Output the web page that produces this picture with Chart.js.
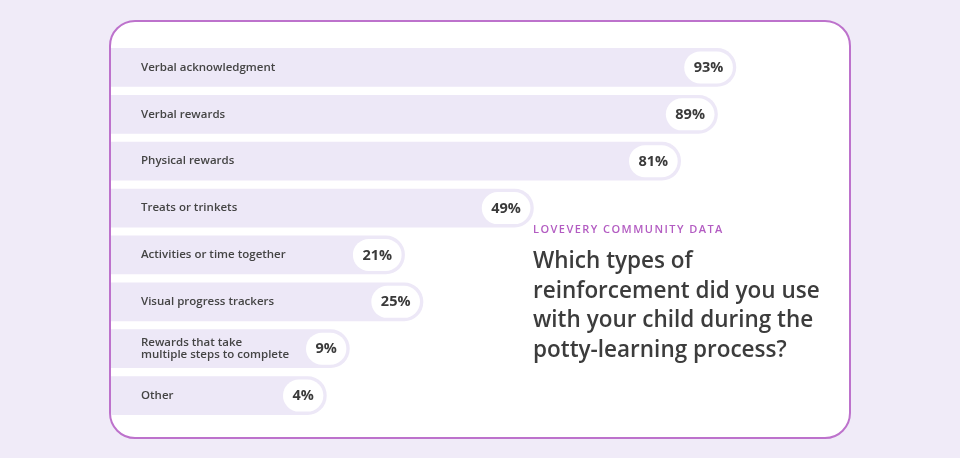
<!DOCTYPE html>
<html><head><meta charset="utf-8">
<script src="https://cdn.jsdelivr.net/npm/chart.js@4"></script>
<style>
html,body{margin:0;padding:0;background:#f0ebf8;width:960px;height:458px;overflow:hidden;font-family:"Open Sans",sans-serif}
#card{position:absolute;left:109px;top:20px;width:738px;height:415px;background:#fff;border:2px solid #bd72cc;border-radius:26px}
#c{position:absolute;left:0;top:0}
#kicker{position:absolute;left:533px;top:222px;font-size:11px;line-height:13px;font-weight:600;letter-spacing:1.45px;color:#b35cc2;white-space:nowrap}
#q{position:absolute;left:533px;top:245px;font-size:22.5px;font-weight:600;line-height:29.7px;color:#3c3c3c;width:330px;white-space:nowrap}
</style></head>
<body>
<div id="card"></div>
<canvas id="c" width="960" height="458"></canvas>
<div id="kicker">LOVEVERY COMMUNITY DATA</div>
<div id="q">Which types of<br>reinforcement did you use<br>with your child during the<br>potty-learning process?</div>
<script>
const categories = ['Verbal acknowledgment','Verbal rewards','Physical rewards','Treats or trinkets','Activities or time together','Visual progress trackers',['Rewards that take','multiple steps to complete'],'Other'];
const values = [93,89,81,49,21,25,9,4];
const valueLabels = ['93%','89%','81%','49%','21%','25%','9%','4%'];

const pillPlugin = {
  id:'pills',
  afterDatasetsDraw(chart){
    const ctx = chart.ctx;
    const meta = chart.getDatasetMeta(0);
    ctx.save();
    meta.data.forEach((bar,i)=>{
      const p = bar.getProps(['x','y','height'],true);
      const inset = 3;
      const h = p.height - 2*inset;
      ctx.font = '700 14.5px "Open Sans"';
      const tw = ctx.measureText(valueLabels[i]).width;
      const w = tw + 19;
      const right = p.x - inset, left = right - w, top = p.y - h/2;
      ctx.beginPath();
      ctx.roundRect(left, top, w, h, h/2);
      ctx.fillStyle = '#ffffff';
      ctx.fill();
      ctx.fillStyle = '#3a3a3a';
      ctx.textAlign = 'center';
      ctx.textBaseline = 'middle';
      ctx.fillText(valueLabels[i], (left+right)/2, p.y + 0.5);
    });
    ctx.restore();
  }
};

new Chart(document.getElementById('c'), {
  type:'bar',
  data:{labels:categories, datasets:[{data:values, base:-42.8, backgroundColor:'#ede8f7', borderWidth:0, barThickness:38,
    borderRadius:{topLeft:0,bottomLeft:0,topRight:19,bottomRight:19}, borderSkipped:false}]},
  options:{
    indexAxis:'y', responsive:false, animation:false,
    layout:{padding:{left:111,right:110,top:44,bottom:39}},
    plugins:{legend:{display:false},tooltip:{enabled:false}},
    scales:{
      x:{min:-42.8,max:117.8,display:false},
      y:{grid:{display:false,drawTicks:false}, border:{display:false},
         ticks:{z:1,mirror:true,padding:30,color:'#444444',font:{family:'Open Sans',size:11.5,weight:'600',lineHeight:1.0}},
         afterFit(s){s.width=0;}}
    }
  },
  plugins:[pillPlugin]
});
</script>
</body></html>
